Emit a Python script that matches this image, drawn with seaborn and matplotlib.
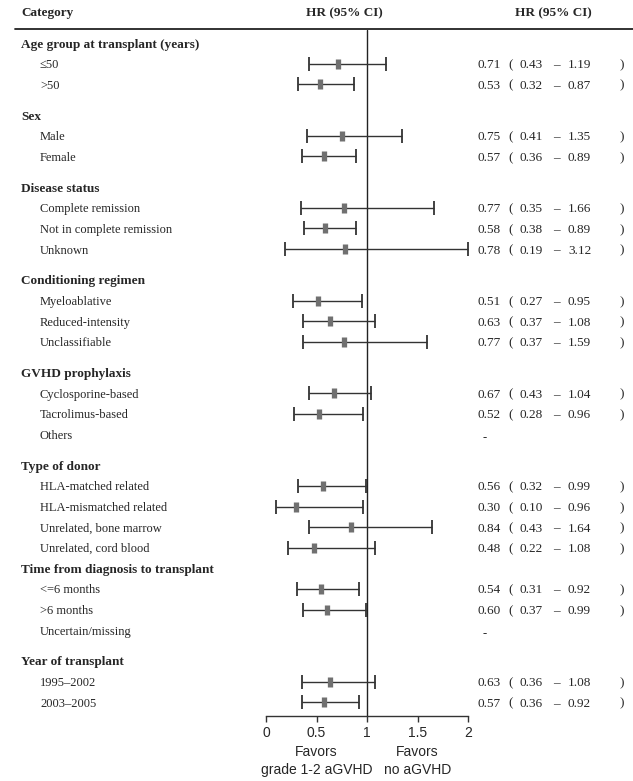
import numpy as np
import pandas as pd
import seaborn as sns
import matplotlib.pyplot as plt
from matplotlib.lines import Line2D
from matplotlib.transforms import blended_transform_factory

# subgroup headings and their categories
headings = ["Age group at transplant (years)", "Sex", "Disease status",
            "Conditioning regimen", "GVHD prophylaxis", "Type of donor",
            "Time from diagnosis to transplant", "Year of transplant"]
items = [["≤50", ">50"],
         ["Male", "Female"],
         ["Complete remission", "Not in complete remission", "Unknown"],
         ["Myeloablative", "Reduced-intensity", "Unclassifiable"],
         ["Cyclosporine-based", "Tacrolimus-based", "Others"],
         ["HLA-matched related", "HLA-mismatched related",
          "Unrelated, bone marrow", "Unrelated, cord blood"],
         ["<=6 months", ">6 months", "Uncertain/missing"],
         ["1995–2002", "2003–2005"]]

nan = np.nan
hr = [0.71, 0.53, 0.75, 0.57, 0.77, 0.58, 0.78, 0.51, 0.63, 0.77, 0.67, 0.52, nan,
      0.56, 0.30, 0.84, 0.48, 0.54, 0.60, nan, 0.63, 0.57]
lo = [0.43, 0.32, 0.41, 0.36, 0.35, 0.38, 0.19, 0.27, 0.37, 0.37, 0.43, 0.28, nan,
      0.32, 0.10, 0.43, 0.22, 0.31, 0.37, nan, 0.36, 0.36]
hi = [1.19, 0.87, 1.35, 0.89, 1.66, 0.89, 3.12, 0.95, 1.08, 1.59, 1.04, 0.96, nan,
      0.99, 0.96, 1.64, 1.08, 0.92, 0.99, nan, 1.08, 0.92]

x_ticks = [0, 0.5, 1, 1.5, 2]
x_tick_labels = ["0", "0.5", "1", "1.5", "2"]

# ---- layout: row positions (extra half row before most headings)
heading_gap = [0, .5, .5, .5, .5, .5, 0, .5]
head_y, item_y, item_lab = [], [], []
pos = 0.0
for h, its, g in zip(headings, items, heading_gap):
    pos += g
    head_y.append(pos)
    for it in its:
        pos += 1
        item_y.append(pos)
        item_lab.append(it)
    pos += 1

df = pd.DataFrame({"label": item_lab, "y": item_y, "hr": hr, "lo": lo, "hi": hi})
xmax = 2.0
df["hi_plot"] = np.minimum(df["hi"], xmax)

sns.set_style("white")
serif = ["Liberation Serif", "DejaVu Serif"]
sans = ["Liberation Sans", "DejaVu Sans"]
plt.rcParams["font.family"] = serif

W, H = 633, 781
fig = plt.figure(figsize=(W / 100, H / 100), dpi=100)
x0_px, x2_px = 266, 468
top_px, bot_px = 30, 716
ax = fig.add_axes([x0_px / W, 1 - bot_px / H, (x2_px - x0_px) / W, (bot_px - top_px) / H])

row_px = 20.6
first_px = 43
ax.set_ylim((bot_px - first_px) / row_px, (top_px - first_px) / row_px)
ax.set_xlim(0, xmax)

ok = df.dropna()
ax.errorbar(ok["hr"], ok["y"], xerr=[ok["hr"] - ok["lo"], ok["hi_plot"] - ok["hr"]],
            fmt="none", ecolor="#333333", elinewidth=1.0, capsize=4.8, capthick=1.3,
            clip_on=False, zorder=2)
sns.scatterplot(data=ok, x="hr", y="y", marker="|", s=60, linewidth=3.8,
                color="#707070", ax=ax, zorder=3, clip_on=False, legend=False)
ax.axvline(1, color="#222222", lw=1.0, zorder=1)

for s in ["top", "left", "right"]:
    ax.spines[s].set_visible(False)
ax.spines["bottom"].set_color("#333333")
ax.spines["bottom"].set_linewidth(1.0)
ax.set_xticks(x_ticks)
ax.set_xticklabels(x_tick_labels, fontfamily=sans, fontsize=10)
ax.tick_params(axis="x", bottom=True, direction="out", length=4, width=1,
               color="#333333", pad=3)
ax.set_yticks([])
ax.set_xlabel("")
ax.set_ylabel("")

# left labels
tr = blended_transform_factory(fig.transFigure, ax.transData)
for h, yv in zip(headings, head_y):
    ax.text(21 / W, yv, h, transform=tr, fontsize=9.5, fontweight="bold",
            va="center_baseline", ha="left")
for lab, yv in zip(item_lab, item_y):
    ax.text(40 / W, yv, lab, transform=tr, fontsize=9, va="center_baseline", ha="left")

# right text columns
cols = [(478, "left"), (508, "left"), (520, "left"), (556, "center"), (568, "left"), (620, "left")]
for _, r in df.iterrows():
    if np.isnan(r["hr"]):
        ax.text(483 / W, r["y"] + 0.2, "-", transform=tr, fontsize=9, va="center", ha="left")
        continue
    parts = [f"{r['hr']:.2f}", "(", f"{r['lo']:.2f}", "–", f"{r['hi']:.2f}", ")"]
    for (xp, ha), txt in zip(cols, parts):
        ax.text(xp / W, r["y"], txt, transform=tr, fontsize=9.5, va="center_baseline", ha=ha)

# header
fig.text(21 / W, 1 - 13 / H, "Category", fontsize=9.5, fontweight="bold", va="center", ha="left")
fig.text(344 / W, 1 - 13 / H, "HR (95% CI)", fontsize=9.5, fontweight="bold", va="center", ha="center")
fig.text(553 / W, 1 - 13 / H, "HR (95% CI)", fontsize=9.5, fontweight="bold", va="center", ha="center")
fig.add_artist(Line2D([15 / W, 1.0], [1 - 29 / H] * 2, color="#222222", lw=1.3))

# favour labels under the axis
trb = blended_transform_factory(ax.transData, fig.transFigure)
for xv, l2 in [(0.5, "grade 1-2 aGVHD"), (1.5, "no aGVHD")]:
    ax.text(xv, 1 - 752 / H, "Favors", transform=trb, fontfamily=sans, fontsize=10,
            ha="center", va="center")
    ax.text(xv, 1 - 770 / H, l2, transform=trb, fontfamily=sans, fontsize=10,
            ha="center", va="center")

fig.savefig("out.png", dpi=100, facecolor="white")
